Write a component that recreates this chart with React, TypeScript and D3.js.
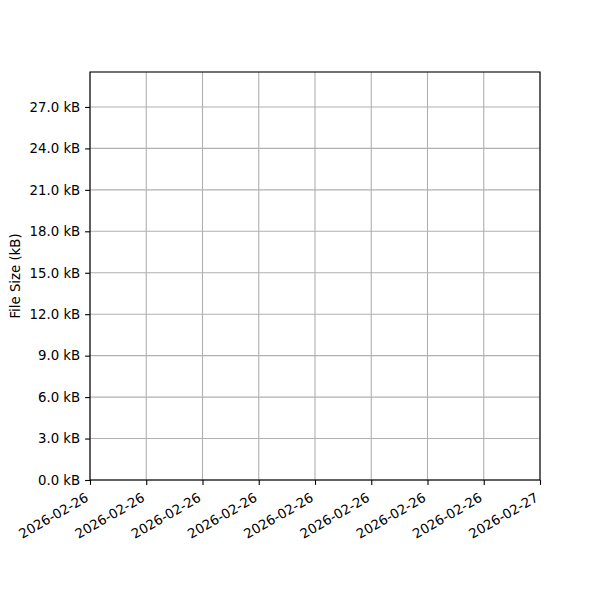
import React, { useEffect, useRef } from 'react'
import * as d3 from 'd3'

// time range shown on the x axis (no samples recorded yet)
const timeRange = ['2026-02-26T00:00:00Z', '2026-02-27T00:00:00Z']
const sampleTimes: string[] = []
const fileSizesKB: number[] = []
const sizeRangeKB = [0, 29.53]
const sizeTickStepKB = 3

export default function App() {
    const svgRef = useRef<SVGSVGElement>(null)
    const width = 600
    const height = 600

    useEffect(() => {
        if (!svgRef.current) return
        const svg = d3.select(svgRef.current)
        svg.selectAll('*').remove()

        const margin = { top: 72, right: 60, bottom: 120, left: 90 }
        const innerWidth = width - margin.left - margin.right
        const innerHeight = height - margin.top - margin.bottom
        const font = '"DejaVu Sans", sans-serif'
        const fontSize = 13.3

        const x = d3.scaleUtc()
            .domain(timeRange.map(d => new Date(d)) as [Date, Date])
            .range([0, innerWidth])

        const y = d3.scaleLinear()
            .domain(sizeRangeKB as [number, number])
            .range([innerHeight, 0])

        const xTicks = d3.utcHour.every(3)!.range(x.domain()[0], new Date(x.domain()[1].getTime() + 1))
        const yTicks = d3.range(sizeRangeKB[0], sizeRangeKB[1], sizeTickStepKB)

        const g = svg.append('g')
            .attr('transform', `translate(${margin.left},${margin.top})`)

        // grid
        g.append('g').selectAll('line').data(xTicks).enter().append('line')
            .attr('x1', d => x(d)).attr('x2', d => x(d))
            .attr('y1', 0).attr('y2', innerHeight)
            .attr('stroke', '#b0b0b0').attr('stroke-width', 1.1)
        g.append('g').selectAll('line').data(yTicks).enter().append('line')
            .attr('x1', 0).attr('x2', innerWidth)
            .attr('y1', d => y(d)).attr('y2', d => y(d))
            .attr('stroke', '#b0b0b0').attr('stroke-width', 1.1)

        // data (empty)
        const pts = sampleTimes.map((t, i) => ({ date: new Date(t), v: fileSizesKB[i] }))
        g.append('path')
            .datum(pts)
            .attr('fill', 'none')
            .attr('stroke', '#1f77b4')
            .attr('stroke-width', 2)
            .attr('d', d3.line<typeof pts[0]>().x(d => x(d.date)).y(d => y(d.v)))

        // frame
        g.append('rect')
            .attr('width', innerWidth).attr('height', innerHeight)
            .attr('fill', 'none').attr('stroke', '#000').attr('stroke-width', 1.1)

        // X axis
        const xAxis = g.append('g')
            .attr('transform', `translate(0,${innerHeight})`)
            .call(d3.axisBottom(x).tickValues(xTicks).tickSize(4.9).tickPadding(4.9)
                .tickFormat(d3.utcFormat('%Y-%m-%d') as any))
        xAxis.select('.domain').remove()
        xAxis.selectAll('.tick line').attr('stroke', '#000').attr('stroke-width', 1.1)
        xAxis.selectAll('.tick text')
            .attr('font-family', font).attr('font-size', fontSize).attr('fill', '#000')
            .attr('text-anchor', 'end')
            .attr('dy', null)
            .attr('y', 0)
            .attr('dominant-baseline', 'hanging')
            .attr('transform', 'translate(-6,12) rotate(-30)')

        // Y axis
        const yAxis = g.append('g')
            .call(d3.axisLeft(y).tickValues(yTicks).tickSize(4.9).tickPadding(4.9)
                .tickFormat(d => `${(+d).toFixed(1)} kB`))
        yAxis.select('.domain').remove()
        yAxis.selectAll('.tick line').attr('stroke', '#000').attr('stroke-width', 1.1)
        yAxis.selectAll('.tick text')
            .attr('font-family', font).attr('font-size', fontSize).attr('fill', '#000')

        g.append('text')
            .attr('transform', `translate(${-70},${innerHeight / 2}) rotate(-90)`)
            .attr('text-anchor', 'middle')
            .attr('font-family', font).attr('font-size', fontSize)
            .text('File Size (kB)')
    }, [])

    return (
        <svg ref={svgRef} width={width} height={height}
            style={{ position: 'absolute', left: 0, top: 0, background: '#fff' }} />
    )
}
